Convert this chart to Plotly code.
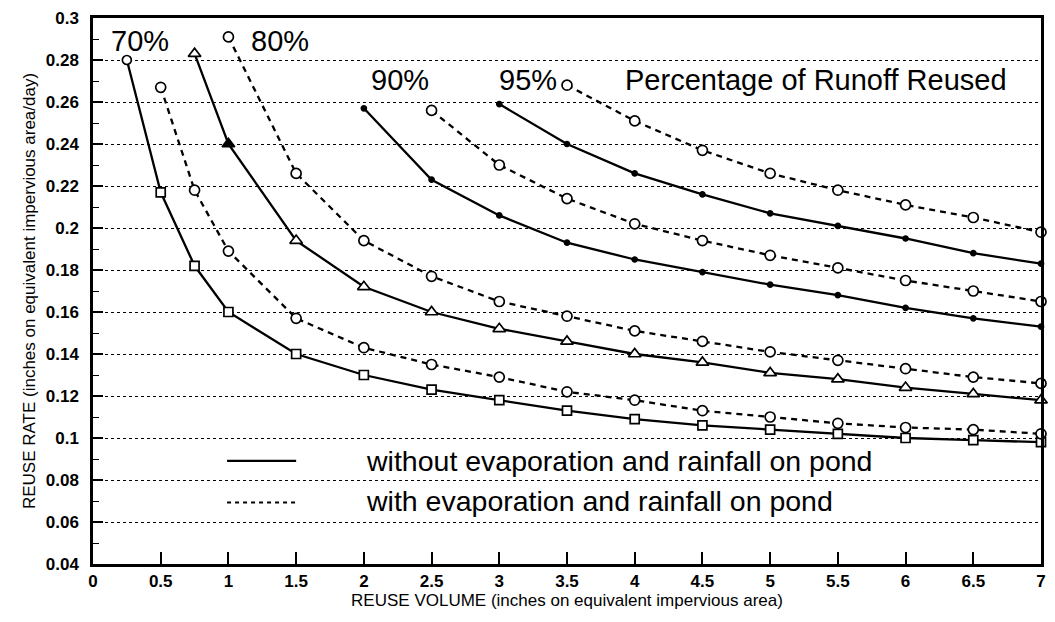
import plotly.graph_objects as go

# ---------------- data ----------------
s70_x = [0.25, 0.5, 0.75, 1, 1.5, 2, 2.5, 3, 3.5, 4, 4.5, 5, 5.5, 6, 6.5, 7]
s70_y = [0.280, 0.217, 0.182, 0.160, 0.140, 0.130, 0.123, 0.118, 0.113, 0.109, 0.106, 0.104, 0.102, 0.100, 0.099, 0.098]

d70_x = [0.5, 0.75, 1, 1.5, 2, 2.5, 3, 3.5, 4, 4.5, 5, 5.5, 6, 6.5, 7]
d70_y = [0.267, 0.218, 0.189, 0.157, 0.143, 0.135, 0.129, 0.122, 0.118, 0.113, 0.110, 0.107, 0.105, 0.104, 0.102]

s80_x = [0.75, 1, 1.5, 2, 2.5, 3, 3.5, 4, 4.5, 5, 5.5, 6, 6.5, 7]
s80_y = [0.283, 0.240, 0.194, 0.172, 0.160, 0.152, 0.146, 0.140, 0.136, 0.131, 0.128, 0.124, 0.121, 0.118]

d80_x = [1, 1.5, 2, 2.5, 3, 3.5, 4, 4.5, 5, 5.5, 6, 6.5, 7]
d80_y = [0.291, 0.226, 0.194, 0.177, 0.165, 0.158, 0.151, 0.146, 0.141, 0.137, 0.133, 0.129, 0.126]

s90_x = [2, 2.5, 3, 3.5, 4, 4.5, 5, 5.5, 6, 6.5, 7]
s90_y = [0.257, 0.223, 0.206, 0.193, 0.185, 0.179, 0.173, 0.168, 0.162, 0.157, 0.153]

d90_x = [2.5, 3, 3.5, 4, 4.5, 5, 5.5, 6, 6.5, 7]
d90_y = [0.256, 0.230, 0.214, 0.202, 0.194, 0.187, 0.181, 0.175, 0.170, 0.165]

s95_x = [3, 3.5, 4, 4.5, 5, 5.5, 6, 6.5, 7]
s95_y = [0.259, 0.240, 0.226, 0.216, 0.207, 0.201, 0.195, 0.188, 0.183]

d95_x = [3.5, 4, 4.5, 5, 5.5, 6, 6.5, 7]
d95_y = [0.268, 0.251, 0.237, 0.226, 0.218, 0.211, 0.205, 0.198]

pct_labels = ["70%", "80%", "90%", "95%"]
x_title = "REUSE VOLUME (inches on equivalent impervious area)"
y_title = "REUSE RATE (inches on equivalent impervious area/day)"
legend_solid = "without evaporation and rainfall on pond"
legend_dashed = "with evaporation and rainfall on pond"
chart_note = "Percentage of Runoff Reused"

FONT = "Liberation Sans, Arial, sans-serif"
BLACK = "#000000"
DASH = "6px,5px"

fig = go.Figure()

def add(x, y, dashed, symbol, size, fill="white"):
    fig.add_trace(go.Scatter(
        x=x, y=y, mode="lines+markers", cliponaxis=False, showlegend=False,
        line=dict(color=BLACK, width=2.3, dash=DASH if dashed else "solid"),
        marker=dict(symbol=symbol, size=size, color=fill,
                    line=dict(color=BLACK, width=1.7)),
    ))

s70_sym = ["circle"] + ["square"] * (len(s70_x) - 1)
s80_fill = ["white", BLACK] + ["white"] * (len(s80_x) - 2)
add(s70_x, s70_y, False, s70_sym, 9)
add(d70_x, d70_y, True, "circle", 10)
add(s80_x, s80_y, False, "triangle-up", 11, s80_fill)
add(d80_x, d80_y, True, "circle", 10)
add(s90_x, s90_y, False, "circle", 5, BLACK)
add(d90_x, d90_y, True, "circle", 10)
add(s95_x, s95_y, False, "circle", 5, BLACK)
add(d95_x, d95_y, True, "circle", 10)

# text annotations
ann = []
for txt, x, y in zip(pct_labels, [0.12, 1.15, 2.04, 2.98], [0.289, 0.289, 0.2705, 0.2705]):
    ann.append(dict(x=x, y=y, text=txt, showarrow=False, xanchor="left", yanchor="middle",
                    font=dict(family=FONT, size=29, color=BLACK)))
ann.append(dict(x=3.91, y=0.2705, text=chart_note, showarrow=False, xanchor="left", yanchor="middle",
                font=dict(family=FONT, size=29, color=BLACK)))
ann.append(dict(x=2.0, y=0.0891, text=legend_solid, showarrow=False, xanchor="left", yanchor="middle",
                font=dict(family=FONT, size=28.5, color=BLACK)))
ann.append(dict(x=2.0, y=0.0700, text=legend_dashed, showarrow=False, xanchor="left", yanchor="middle",
                font=dict(family=FONT, size=28.5, color=BLACK)))

shapes = [
    dict(type="line", xref="x", yref="y", x0=0.99, x1=1.5, y0=0.0891, y1=0.0891,
         line=dict(color=BLACK, width=2.3)),
    dict(type="line", xref="x", yref="y", x0=0.99, x1=1.5, y0=0.0693, y1=0.0693,
         line=dict(color=BLACK, width=2.0, dash="4px,4px")),
]

fig.update_layout(
    width=1055, height=622,
    margin=dict(l=93, r=9, t=14, b=58),
    paper_bgcolor="white", plot_bgcolor="white",
    annotations=ann, shapes=shapes,
    font=dict(family=FONT, color=BLACK),
)

fig.update_xaxes(
    range=[0, 7], tickmode="linear", tick0=0, dtick=0.5,
    ticks="inside", ticklen=12, tickwidth=1.5, tickcolor=BLACK,
    showline=True, linewidth=2.5, linecolor=BLACK, mirror=True,
    showgrid=False, zeroline=False,
    tickfont=dict(family=FONT, size=17, color=BLACK, weight="bold"),
    title=dict(text=x_title, font=dict(family=FONT, size=17, color=BLACK), standoff=3),
)
fig.update_yaxes(
    range=[0.04, 0.3], tickmode="linear", tick0=0.04, dtick=0.02,
    ticks="inside", ticklen=10, tickwidth=1.5, tickcolor=BLACK,
    minor=dict(dtick=0.01, ticks="inside", ticklen=6, tickwidth=1.2, tickcolor=BLACK, showgrid=False),
    showline=True, linewidth=2.5, linecolor=BLACK, mirror=True,
    showgrid=True, gridcolor=BLACK, gridwidth=1, griddash="dot",
    zeroline=False, ticklabelstandoff=8,
    tickformat="~g",
    tickfont=dict(family=FONT, size=17, color=BLACK, weight="bold"),
    title=dict(text=y_title, font=dict(family=FONT, size=17, color=BLACK), standoff=6),
)

fig.write_html("out.html")
